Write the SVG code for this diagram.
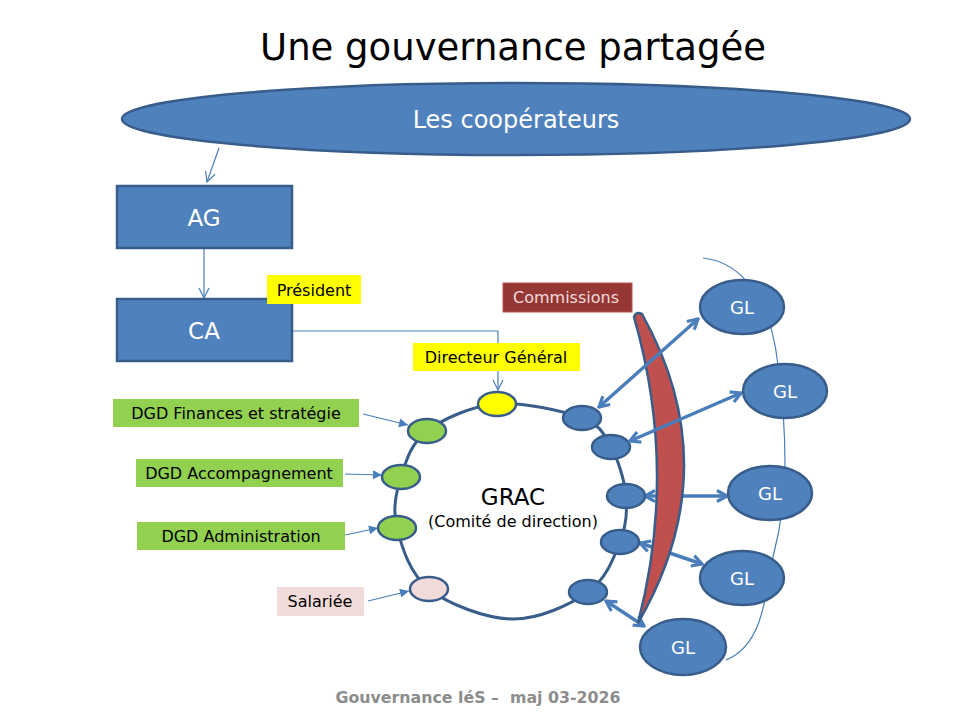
<svg xmlns="http://www.w3.org/2000/svg" width="960" height="720" viewBox="0 0 960 720">
<defs>
<style>
text{font-family:"DejaVu Sans","Liberation Sans",sans-serif;text-anchor:middle}
.big{fill:#4f81bd;stroke:#385d8a;stroke-width:2.5}
.wt{fill:#ffffff}
.lbl{font-size:16px;fill:#000000}
.small{stroke:#385d8a;stroke-width:2.5}
.thin{fill:none;stroke:#4a7ebb;stroke-width:1.2}
.thick{fill:none;stroke:#4a7ebb;stroke-width:3.5}
</style>
<marker id="vopen" viewBox="0 0 12 12" refX="11" refY="6" markerWidth="12" markerHeight="12" markerUnits="userSpaceOnUse" orient="auto">
<path d="M1,1 L11,6 L1,11" fill="none" stroke="#4a7ebb" stroke-width="1.2"/>
</marker>
<marker id="tri" viewBox="0 0 10 10" refX="10" refY="5" markerWidth="10" markerHeight="9" markerUnits="userSpaceOnUse" orient="auto">
<path d="M0,0 L10,5 L0,10 Z" fill="#4a7ebb"/>
</marker>
<marker id="chev" viewBox="0 0 14 14" refX="12" refY="7" markerWidth="14" markerHeight="14" markerUnits="userSpaceOnUse" orient="auto-start-reverse">
<path d="M2,1.5 L12,7 L2,12.5" fill="none" stroke="#4a7ebb" stroke-width="3.2" stroke-linejoin="miter"/>
</marker>
</defs>
<rect width="960" height="720" fill="#ffffff"/>

<text id="title" x="513" y="60" style="font-size:37px;fill:#000">Une gouvernance partagée</text>

<g id="connectors-back">
<path class="thin" d="M703,258 C742,262 771,300 778,365 C783,400 785,425 785,465 C785,500 780,530 773,557 C765,600 762,645 726,660"/>
<line class="thin" x1="219" y1="148" x2="207" y2="182" marker-end="url(#vopen)"/>
<line class="thin" x1="204" y1="248" x2="204" y2="298" marker-end="url(#vopen)"/>
<polyline class="thin" points="282,331 498,331 498,390" marker-end="url(#vopen)"/>
<line class="thin" x1="363" y1="414" x2="408" y2="425" marker-end="url(#tri)"/>
<line class="thin" x1="345" y1="474" x2="382" y2="475" marker-end="url(#tri)"/>
<line class="thin" x1="345" y1="535" x2="378" y2="528" marker-end="url(#tri)"/>
<line class="thin" x1="368" y1="601" x2="409" y2="591" marker-end="url(#tri)"/>
<line class="thick" x1="645" y1="496" x2="727" y2="496" marker-start="url(#chev)" marker-end="url(#chev)"/>
<line class="thick" x1="640" y1="543" x2="702" y2="564" marker-start="url(#chev)" marker-end="url(#chev)"/>
<line class="thick" x1="606" y1="601" x2="644" y2="626" marker-start="url(#chev)" marker-end="url(#chev)"/>
</g>

<g id="cooperateurs">
<ellipse class="big" cx="516" cy="119" rx="394" ry="36"/>
<text class="wt" x="516" y="128" style="font-size:24px">Les coopérateurs</text>
</g>

<g id="ag">
<rect class="big" x="117" y="186" width="175" height="62"/>
<text class="wt" x="204" y="226" style="font-size:23px">AG</text>
</g>

<g id="ca">
<rect class="big" x="117" y="299" width="175" height="62"/>
<text class="wt" x="204" y="339" style="font-size:23px">CA</text>
</g>

<g id="president">
<rect x="267" y="275" width="94" height="29" fill="#ffff00"/>
<text class="lbl" x="314" y="296">Président</text>
</g>

<g id="directeur">
<rect x="413" y="343" width="167" height="28" fill="#ffff00"/>
<text class="lbl" x="496" y="363">Directeur Général</text>
</g>

<g id="grac">
<path d="M497,404 C522.8,401.8 563,410.8 582,418 C601,425.2 603.7,434 611,447 C618.3,460 624.5,480.2 626,496 C627.5,511.8 626.3,526 620,542 C613.7,558 606,579.2 588,592 C570,604.8 538.5,619.5 512,619 C485.5,618.5 448.2,604.2 429,589 C409.8,573.8 401.7,546.7 397,528 C392.3,509.3 396,493.2 401,477 C406,460.8 411,443.2 427,431 C443,418.8 471.2,406.2 497,404 Z" fill="none" stroke="#385d8a" stroke-width="3"/>
<text x="513" y="505" style="font-size:23px;fill:#000">GRAC</text>
<text class="lbl" x="513" y="527">(Comité de direction)</text>
</g>

<g id="members">
<ellipse class="small" cx="497" cy="404" rx="19" ry="12" fill="#ffff00"/>
<ellipse class="small" cx="427" cy="431" rx="19" ry="12" fill="#92d050"/>
<ellipse class="small" cx="401" cy="477" rx="19" ry="12" fill="#92d050"/>
<ellipse class="small" cx="397" cy="528" rx="19" ry="12" fill="#92d050"/>
<ellipse class="small" cx="429" cy="589" rx="19" ry="12" fill="#f2dcdb"/>
<ellipse class="small" cx="582" cy="418" rx="19" ry="12" fill="#4f81bd"/>
<ellipse class="small" cx="611" cy="447" rx="19" ry="12" fill="#4f81bd"/>
<ellipse class="small" cx="626" cy="496" rx="19" ry="12" fill="#4f81bd"/>
<ellipse class="small" cx="620" cy="542" rx="19" ry="12" fill="#4f81bd"/>
<ellipse class="small" cx="588" cy="592" rx="19" ry="12" fill="#4f81bd"/>
</g>

<g id="dgd-finances">
<rect x="113" y="399" width="246" height="28" fill="#92d050"/>
<text class="lbl" x="236" y="419">DGD Finances et stratégie</text>
</g>
<g id="dgd-accompagnement">
<rect x="136" y="459" width="207" height="28" fill="#92d050"/>
<text class="lbl" x="239" y="479">DGD Accompagnement</text>
</g>
<g id="dgd-administration">
<rect x="137" y="522" width="208" height="28" fill="#92d050"/>
<text class="lbl" x="241" y="542">DGD Administration</text>
</g>
<g id="salariee">
<rect x="277" y="587" width="87" height="29" fill="#f2dcdb"/>
<text class="lbl" x="320" y="607">Salariée</text>
</g>

<g id="commissions">
<path d="M634,317 Q636,311 642,314 Q728,468 638,623 Q678,470 634,317 Z" fill="#c0504d" stroke="#385d8a" stroke-width="2.5"/>
<rect x="503" y="283" width="129" height="29" fill="#953735" stroke="#c0504d" stroke-width="1"/>
<text x="566" y="303" style="font-size:16px;fill:#f2dcdb">Commissions</text>
</g>

<g id="connectors-front">
<line class="thick" x1="599" y1="407" x2="698" y2="319" marker-start="url(#chev)" marker-end="url(#chev)"/>
<line class="thick" x1="630" y1="441" x2="741" y2="393" marker-start="url(#chev)" marker-end="url(#chev)"/>
</g>

<g id="gl1"><ellipse class="big" cx="742" cy="307" rx="42" ry="27"/><text class="wt" x="742" y="314" style="font-size:18px">GL</text></g>
<g id="gl2"><ellipse class="big" cx="785" cy="391" rx="42" ry="27"/><text class="wt" x="785" y="398" style="font-size:18px">GL</text></g>
<g id="gl3"><ellipse class="big" cx="770" cy="493" rx="42" ry="27"/><text class="wt" x="770" y="500" style="font-size:18px">GL</text></g>
<g id="gl4"><ellipse class="big" cx="742" cy="578" rx="42" ry="27"/><text class="wt" x="742" y="585" style="font-size:18px">GL</text></g>
<g id="gl5"><ellipse class="big" cx="683" cy="647" rx="43" ry="28"/><text class="wt" x="683" y="654" style="font-size:18px">GL</text></g>

<text id="footer" x="478" y="703" xml:space="preserve" style="font-size:15.8px;font-weight:bold;fill:#8c8c8c">Gouvernance léS –  maj 03-2026</text>
</svg>
